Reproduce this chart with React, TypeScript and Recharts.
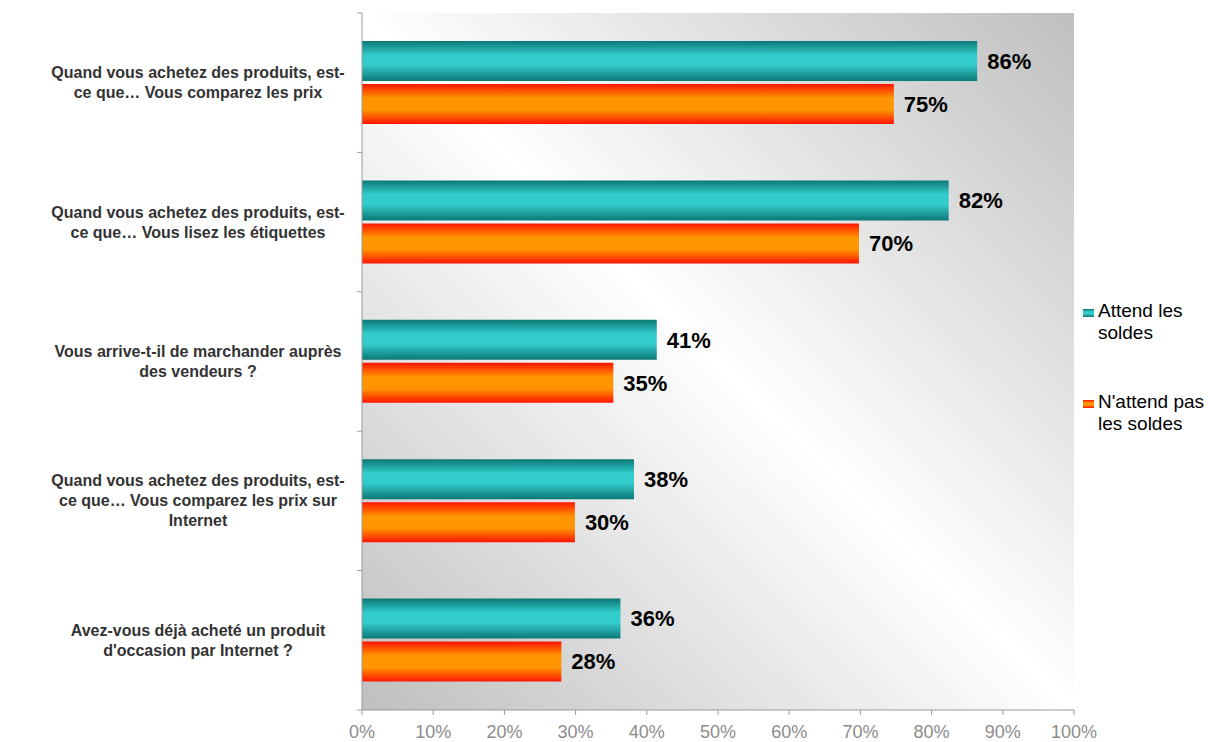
import { BarChart, Bar, XAxis, YAxis, CartesianGrid, Legend, LabelList } from 'recharts'

const categories = [
  'Quand vous achetez des produits, est-\nce que… Vous comparez les prix',
  'Quand vous achetez des produits, est-\nce que… Vous lisez les étiquettes',
  'Vous arrive-t-il de marchander auprès\ndes vendeurs ?',
  'Quand vous achetez des produits, est-\nce que… Vous comparez les prix sur\nInternet',
  'Avez-vous déjà acheté un produit\nd\'occasion par Internet ?',
]
const seriesNames = ['Attend les soldes', "N'attend pas les soldes"]
const attendValues = [86.4, 82.4, 41.4, 38.2, 36.3]
const nAttendValues = [74.7, 69.8, 35.3, 29.9, 28.0]
const xTicks = [0, 10, 20, 30, 40, 50, 60, 70, 80, 90, 100]

const data = categories.map((name, i) => ({ name, attend: attendValues[i], nattend: nAttendValues[i] }))

const W = 1208
const H = 742
const MARGIN = { top: 13, right: 134, bottom: 0, left: 0 }
const X_AXIS_H = 32
const Y_AXIS_W = 362
const BAND = (H - MARGIN.top - MARGIN.bottom - X_AXIS_H) / categories.length
const FONT = '"Liberation Sans", Arial, Helvetica, sans-serif'
const AXIS = '#9a9a9a'

const TEAL_GRAD = 'linear-gradient(to bottom, #0b7875 0%, #33cccc 35%, #33cccc 60%, #0b7875 100%)'
const ORANGE_GRAD = 'linear-gradient(to bottom, #ff1400 0%, #ff9500 35%, #ff9500 65%, #ff1400 100%)'

function CategoryTick(props: any) {
  const { x, y, payload, index } = props
  const lines = String(payload.value).split('\n')
  const half = BAND / 2
  const cx = x - 164
  return (
    <g>
      <line x1={x - 5} x2={x} y1={y - half} y2={y - half} stroke={AXIS} />
      {index === categories.length - 1 && <line x1={x - 5} x2={x} y1={y + half} y2={y + half} stroke={AXIS} />}
      <text x={cx} y={y} textAnchor="middle" fill="#333333" fontSize={16} fontWeight="bold" fontFamily={FONT}>
        {lines.map((l, i) => (
          <tspan key={i} x={cx} y={y + (i - (lines.length - 1) / 2) * 20 + 5.5}>
            {l}
          </tspan>
        ))}
      </text>
    </g>
  )
}

function LegendContent(props: any) {
  const payload = props.payload || []
  return (
    <div style={{ fontFamily: FONT, fontSize: 19, lineHeight: '22px', color: '#000' }}>
      {payload.map((entry: any, i: number) => (
        <div key={entry.value} style={{ display: 'flex', alignItems: 'flex-start', marginBottom: i === 0 ? 47 : 0 }}>
          <span
            style={{
              display: 'inline-block',
              flex: '0 0 11px',
              width: 11,
              height: 8,
              marginTop: 9,
              marginRight: 4,
              background: i === 0 ? TEAL_GRAD : ORANGE_GRAD,
            }}
          />
          <span style={{ width: 112 }}>{entry.value}</span>
        </div>
      ))}
    </div>
  )
}

export default function App() {
  return (
    <div style={{ position: 'absolute', left: 0, top: 0, width: W, height: H, background: '#fff' }}>
      <BarChart
        width={W}
        height={H}
        data={data}
        layout="vertical"
        margin={MARGIN}
        barSize={40}
        barGap={3}
      >
        <defs>
          <linearGradient id="plotBg" x1="0" y1="1" x2="1" y2="0">
            <stop offset="0%" stopColor="#bfbfbf" />
            <stop offset="50%" stopColor="#ffffff" />
            <stop offset="100%" stopColor="#bfbfbf" />
          </linearGradient>
          <linearGradient id="tealGrad" x1="0" y1="0" x2="0" y2="1">
            <stop offset="0%" stopColor="#0b7875" />
            <stop offset="35%" stopColor="#33cccc" />
            <stop offset="60%" stopColor="#33cccc" />
            <stop offset="100%" stopColor="#0b7875" />
          </linearGradient>
          <linearGradient id="orangeGrad" x1="0" y1="0" x2="0" y2="1">
            <stop offset="0%" stopColor="#ff1400" />
            <stop offset="35%" stopColor="#ff9500" />
            <stop offset="65%" stopColor="#ff9500" />
            <stop offset="100%" stopColor="#ff1400" />
          </linearGradient>
        </defs>
        <CartesianGrid horizontal={false} vertical={false} fill="url(#plotBg)" stroke="none" />
        <XAxis
          type="number"
          domain={[0, 100]}
          ticks={xTicks}
          tickFormatter={(v) => `${v}%`}
          height={X_AXIS_H}
          axisLine={{ stroke: AXIS }}
          tickLine={{ stroke: AXIS }}
          tickSize={5}
          tickMargin={10}
          tick={{ fill: '#8c8c8c', fontSize: 18, fontFamily: FONT }}
          interval={0}
        />
        <YAxis
          type="category"
          dataKey="name"
          width={Y_AXIS_W}
          axisLine={{ stroke: AXIS }}
          tickLine={false}
          tickSize={0}
          tickMargin={0}
          tick={<CategoryTick />}
          interval={0}
        />
        <Legend
          layout="vertical"
          align="center"
          verticalAlign="middle"
          content={<LegendContent />}
          wrapperStyle={{ left: 1083, top: 300, width: 125 }}
        />
        <Bar dataKey="attend" name={seriesNames[0]} fill="url(#tealGrad)" isAnimationActive={false}>
          <LabelList
            dataKey="attend"
            position="right"
            offset={10}
            formatter={(v: any) => `${Math.round(Number(v))}%`}
            fill="#000"
            fontSize={22}
            fontWeight="bold"
            fontFamily={FONT}
          />
        </Bar>
        <Bar dataKey="nattend" name={seriesNames[1]} fill="url(#orangeGrad)" isAnimationActive={false}>
          <LabelList
            dataKey="nattend"
            position="right"
            offset={10}
            formatter={(v: any) => `${Math.round(Number(v))}%`}
            fill="#000"
            fontSize={22}
            fontWeight="bold"
            fontFamily={FONT}
          />
        </Bar>
      </BarChart>
    </div>
  )
}
